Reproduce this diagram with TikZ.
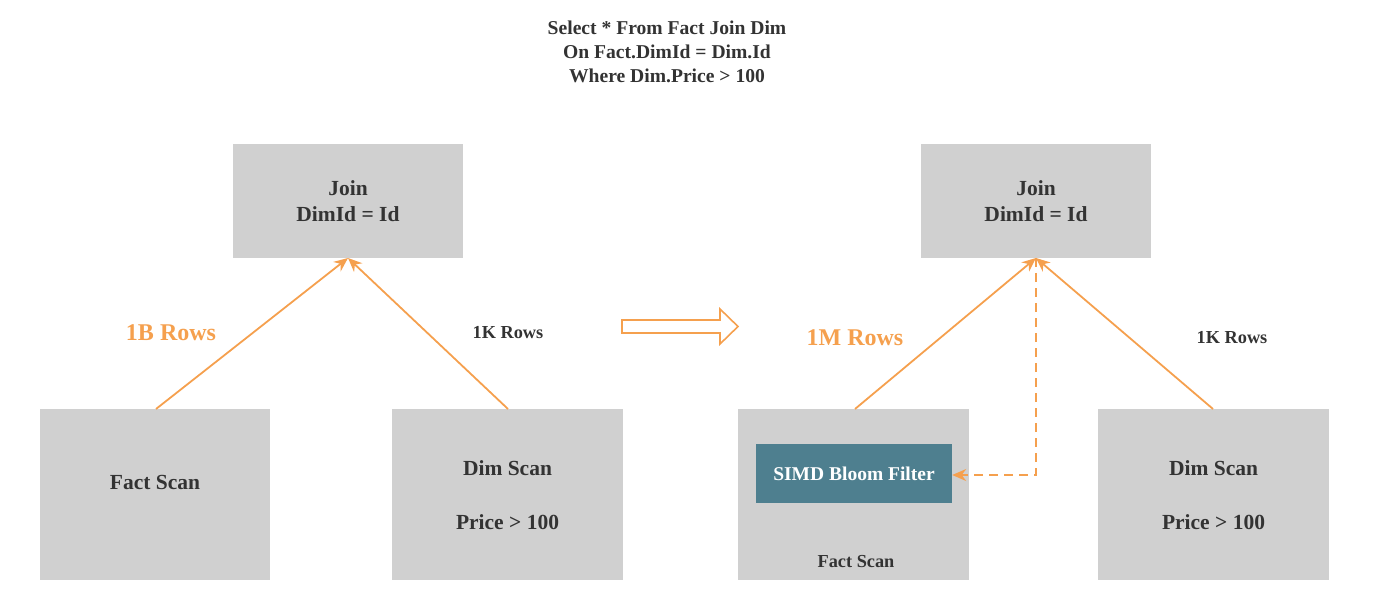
\documentclass[tikz,border=0pt]{standalone}
\usepackage{fontspec}
\setmainfont{Liberation Serif}
\usetikzlibrary{arrows.meta}
\definecolor{boxgray}{HTML}{D0D0D0}
\definecolor{tealc}{HTML}{4E7F8F}
\definecolor{orng}{HTML}{F5A04E}
\definecolor{txt}{HTML}{333333}
\begin{document}
\begin{tikzpicture}[x=1pt,y=-1pt,
  box/.style={fill=boxgray,draw=none,inner sep=0pt,text=txt,font=\bfseries\fontsize{21.5}{26}\selectfont,align=center},
  btxt/.style={text=txt,font=\bfseries\fontsize{21.5}{26}\selectfont},
  flow/.style={draw=orng,line width=1.8pt,-{Stealth[length=14pt,width=12pt]}},
  lbl/.style={text=txt,font=\bfseries\fontsize{18.3}{20}\selectfont},
  olbl/.style={text=orng,font=\bfseries\fontsize{24}{26}\selectfont}]
\useasboundingbox (0,0) rectangle (1374,604);
% title
\node[text=txt,font=\bfseries\fontsize{19.6}{24}\selectfont,align=center] (title) at (667,52)
  {Select * From Fact Join Dim\\On Fact.DimId = Dim.Id\\Where Dim.Price > 100};
% left tree
\node[box,minimum width=230pt,minimum height=114pt] (join1) at (348,201) {Join\\DimId = Id};
\node[box,minimum width=230pt,minimum height=171pt] (fact1) at (155,494.5) {};
\node[btxt] (fact1t) at (155,482) {Fact Scan};
\node[box,minimum width=231pt,minimum height=171pt] (dim1) at (507.5,494.5) {};
\node[btxt] (dim1a) at (507.5,468) {Dim Scan};
\node[btxt] (dim1b) at (507.5,522) {Price > 100};
\coordinate (j1) at (348,258);
\draw[flow] (156,409) -- (j1);
\draw[flow] (508,409) -- (j1);
\node[olbl] (r1) at (171,333) {1B Rows};
\node[lbl] (r2) at (508,333) {1K Rows};
% transform arrow
\draw[draw=orng,line width=1.6pt,line join=miter] (622,320) -- (720,320) -- (720,309) -- (738,326.5) -- (720,344) -- (720,333) -- (622,333) -- cycle;
% right tree
\node[box,minimum width=230pt,minimum height=114pt] (join2) at (1036,201) {Join\\DimId = Id};
\node[box,minimum width=231pt,minimum height=171pt] (fact2) at (853.5,494.5) {};
\node[fill=tealc,text=white,inner sep=0pt,minimum width=196pt,minimum height=59pt,font=\bfseries\fontsize{19.5}{22}\selectfont] (bloom) at (854,473.5) {SIMD Bloom Filter};
\node[lbl] (fact2t) at (856,562) {Fact Scan};
\node[box,minimum width=231pt,minimum height=171pt] (dim2) at (1213.5,494.5) {};
\node[btxt] (dim2a) at (1213.5,468) {Dim Scan};
\node[btxt] (dim2b) at (1213.5,522) {Price > 100};
\coordinate (j2) at (1036,258);
\coordinate (bend) at (1036,475);
\draw[flow] (855,409) -- (j2);
\draw[flow] (1213,409) -- (j2);
\draw[flow,dash pattern=on 9pt off 6pt] (j2) -- (bend) -- (bloom.east |- bend);
\node[olbl] (r3) at (855,338) {1M Rows};
\node[lbl] (r4) at (1232,338) {1K Rows};
\end{tikzpicture}
\end{document}
